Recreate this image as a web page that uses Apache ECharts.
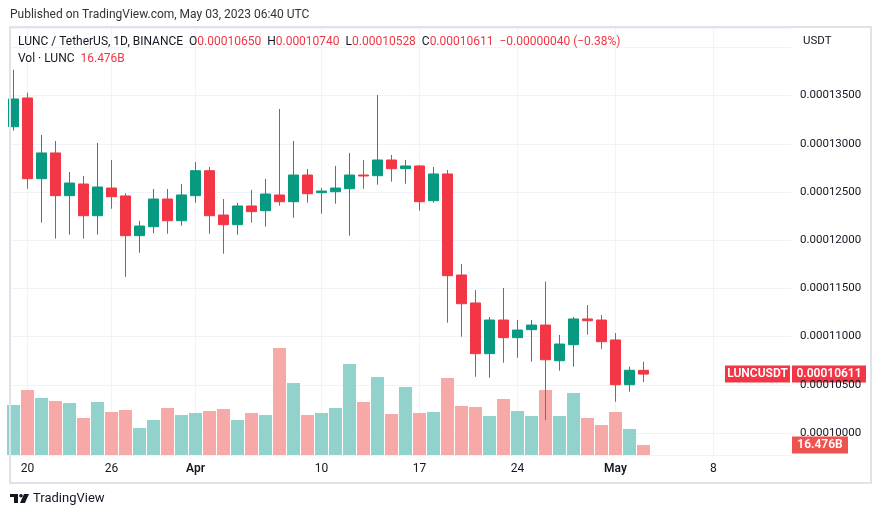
<!DOCTYPE html>
<html>
<head>
<meta charset="utf-8">
<script src="https://cdn.jsdelivr.net/npm/echarts@6/dist/echarts.min.js"></script>
<style>
  html, body { margin: 0; padding: 0; background: #fff; }
  #chart { width: 882px; height: 518px; }
</style>
</head>
<body>
<div id="chart"></div>
<script>
// daily LUNC/USDT candles, Mar 19 - May 3 2023
const dates = ['03-19','03-20','03-21','03-22','03-23','03-24','03-25','03-26','03-27','03-28',
  '03-29','03-30','03-31','04-01','04-02','04-03','04-04','04-05','04-06','04-07',
  '04-08','04-09','04-10','04-11','04-12','04-13','04-14','04-15','04-16','04-17',
  '04-18','04-19','04-20','04-21','04-22','04-23','04-24','04-25','04-26','04-27',
  '04-28','04-29','04-30','05-01','05-02','05-03'];
const open = [0.00013177,0.00013475,0.00012638,0.00012905,0.00012462,0.00012583,0.00012254,0.00012541,0.00012459,0.00012047,
  0.00012140,0.00012427,0.00012202,0.00012462,0.00012721,0.00012261,0.00012161,0.00012355,0.00012306,0.00012469,
  0.00012399,0.00012676,0.00012493,0.00012503,0.00012534,0.00012676,0.00012669,0.00012832,0.00012742,0.00012770,
  0.00012410,0.00012687,0.00011639,0.00011349,0.00010823,0.00011172,0.00010989,0.00011072,0.00011120,0.00010750,
  0.00010916,0.00011183,0.00011172,0.00010965,0.00010501,0.00010650];
const close = [0.00013465,0.00012638,0.00012905,0.00012462,0.00012593,0.00012254,0.00012552,0.00012451,0.00012047,0.00012147,
  0.00012427,0.00012202,0.00012469,0.00012721,0.00012254,0.00012161,0.00012355,0.00012296,0.00012479,0.00012399,
  0.00012676,0.00012482,0.00012510,0.00012541,0.00012676,0.00012666,0.00012832,0.00012742,0.00012770,0.00012399,
  0.00012687,0.00011632,0.00011341,0.00010823,0.00011172,0.00010989,0.00011068,0.00011120,0.00010760,0.00010923,
  0.00011183,0.00011165,0.00010947,0.00010501,0.00010651,0.00010611];
const low = [0.00013136,0.00012534,0.00012182,0.00012016,0.00012057,0.00012016,0.00012057,0.00012327,0.00011621,0.00011870,
  0.00012072,0.00012067,0.00012150,0.00012389,0.00012067,0.00011860,0.00012057,0.00012182,0.00012140,0.00012358,
  0.00012233,0.00012389,0.00012275,0.00012379,0.00012047,0.00012534,0.00012576,0.00012607,0.00012586,0.00012306,
  0.00012389,0.00011144,0.00010999,0.00010584,0.00010574,0.00010729,0.00010781,0.00010740,0.00010135,0.00010646,
  0.00010688,0.00011020,0.00010874,0.00010325,0.00010428,0.00010528];
const high = [0.00013766,0.00013530,0.00013091,0.00013029,0.00012707,0.00012666,0.00013008,0.00012832,0.00012487,0.00012202,
  0.00012531,0.00012531,0.00012583,0.00012811,0.00012759,0.00012427,0.00012386,0.00012521,0.00012635,0.00013361,
  0.00013029,0.00012739,0.00012541,0.00012770,0.00012905,0.00012832,0.00013506,0.00012884,0.00012832,0.00012780,
  0.00012759,0.00012728,0.00011753,0.00011483,0.00011203,0.00011504,0.00011172,0.00011172,0.00011570,0.00011017,
  0.00011203,0.00011328,0.00011224,0.00011037,0.00010688,0.00010740];
// volume in billions of LUNC
const volume = [82.4,107.1,93.9,89.0,85.7,61.0,87.3,70.8,74.1,44.5,
  57.7,77.4,65.9,69.2,72.5,75.8,57.7,69.2,65.9,176.3,
  118.6,65.9,69.2,77.4,149.9,87.3,128.5,67.6,112.0,69.2,
  70.8,126.9,80.7,79.1,64.3,92.3,72.5,64.3,107.1,64.3,
  102.2,61.0,49.4,70.8,42.8,16.476];

// x tick positions (day index from Mar 19) and their labels
const xTickIdx = [1, 7, 13, 22, 29, 36, 43, 50];
const xTickLabels = ['20', '26', 'Apr', '10', '17', '24', 'May', '8'];
// highest price label shown (the one above sits under the "USDT" caption)
const yLabelTop = 0.000135;

const UP = '#089981', DOWN = '#F23645';
const VOL_UP = '#92D2CC', VOL_DOWN = '#F7A9A7';
const FONT = 'Roboto, "Noto Sans", sans-serif';

const last = dates.length - 1;
const lastClose = close[last];
const chg = lastClose - close[last - 1];
const chgPct = chg / close[last - 1] * 100;
const fmt = v => v.toFixed(8);
const minus = s => s.replace('-', '\u2212');

const candleData = dates.map((d, i) => [i, open[i], close[i], low[i], high[i]]);
const volData = dates.map((d, i) => ({
  value: [i, volume[i]],
  itemStyle: { color: close[i] >= open[i] ? VOL_UP : VOL_DOWN }
}));

const chart = echarts.init(document.getElementById('chart'));

const option = {
  backgroundColor: '#fff',
  animation: false,
  textStyle: { fontFamily: FONT },
  grid: { left: 10, right: 91, top: 28, bottom: 63 },
  xAxis: {
    type: 'value',
    min: -0.25,
    max: 55.536,
    axisLine: { show: false },
    axisTick: { show: false, customValues: xTickIdx },
    splitLine: { show: true, lineStyle: { color: '#F0F3FA', width: 1 } },
    axisLabel: {
      customValues: xTickIdx,
      margin: 8,
      color: '#131722',
      fontSize: 12,
      fontFamily: FONT,
      formatter: function (val) {
        const k = xTickIdx.indexOf(Math.round(val));
        const s = k >= 0 ? xTickLabels[k] : '';
        return isNaN(Number(s)) ? '{m|' + s + '}' : s;
      },
      rich: { m: { fontWeight: 600, fontSize: 12, color: '#131722', fontFamily: FONT } }
    }
  },
  yAxis: [
    {
      type: 'value',
      position: 'right',
      min: 0.00009772,
      max: 0.00014201,
      splitNumber: 9,
      axisLine: { show: false },
      axisTick: { show: false },
      splitLine: { show: true, lineStyle: { color: '#F0F3FA', width: 1 } },
      axisLabel: {
        showMinLabel: false,
        showMaxLabel: false,
        margin: 9,
        color: '#131722',
        fontSize: 11.5,
        fontFamily: FONT,
        formatter: v => (v > yLabelTop + 1e-9 ? '' : v.toFixed(8))
      }
    },
    {
      type: 'value',
      min: 0,
      max: 703.5,
      show: false,
      splitLine: { show: false }
    }
  ],
  series: [
    {
      name: 'Vol',
      type: 'bar',
      yAxisIndex: 1,
      barWidth: 13,
      data: volData,
      z: 1
    },
    {
      name: 'LUNCUSDT',
      type: 'candlestick',
      barWidth: 10,
      encode: { x: 0, y: [1, 2, 3, 4] },
      data: candleData,
      itemStyle: {
        color: UP, color0: DOWN,
        borderColor: UP, borderColor0: DOWN,
        borderWidth: 1
      },
      z: 3,
      markLine: {
        silent: true,
        symbol: 'none',
        label: { show: false },
        lineStyle: { color: DOWN, type: [1, 2], width: 1 },
        data: [{ yAxis: lastClose }]
      }
    }
  ]
};
chart.setOption(option);

// label boxes on the right axis, placed through the axis scales
const yPrice = chart.convertToPixel({ yAxisIndex: 0 }, lastClose);
const yVol = chart.convertToPixel({ yAxisIndex: 1 }, volume[last]);

const boxText = (x, y, w, text, fill) => ({
  type: 'group',
  z: 20,
  children: [
    { type: 'rect', shape: { x: x, y: Math.round(y) - 8.5, width: w, height: 17 }, style: { fill: fill } },
    { type: 'text', x: x + w / 2, y: Math.round(y),
      style: { text: text, fill: '#fff', font: '600 12px ' + FONT, align: 'center', verticalAlign: 'middle' } }
  ]
});

chart.setOption({
  graphic: [
    // outer frame
    { type: 'rect', z: 30, shape: { x: 10, y: 27, width: 861, height: 456 },
      style: { fill: 'none', stroke: '#E0E3EB', lineWidth: 2 } },
    { type: 'text', x: 10, y: 15, z: 10,
      style: { text: 'Published on TradingView.com, May 03, 2023 06:40 UTC', fill: '#333',
        font: '12px ' + FONT, verticalAlign: 'middle' } },
    { type: 'text', x: 18, y: 42, z: 10,
      style: {
        text: 'LUNC / TetherUS, 1D, BINANCE  O{r|' + fmt(open[last]) + '}  H{r|' + fmt(high[last]) +
          '}  L{r|' + fmt(low[last]) + '}  C{r|' + fmt(close[last]) + '}  {r|' + minus(fmt(chg)) +
          ' (' + minus(chgPct.toFixed(2)) + '%)}',
        fill: '#131722', font: '12px ' + FONT, verticalAlign: 'middle',
        rich: { r: { fill: DOWN, font: '12px ' + FONT } }
      } },
    { type: 'text', x: 18, y: 59, z: 10,
      style: { text: 'Vol \u00b7 LUNC  {r|' + volume[last].toFixed(3) + 'B}', fill: '#131722',
        font: '12px ' + FONT, verticalAlign: 'middle',
        rich: { r: { fill: DOWN, font: '12px ' + FONT } } } },
    { type: 'text', x: 803, y: 41, z: 10,
      style: { text: 'USDT', fill: '#131722', font: '11.5px ' + FONT, verticalAlign: 'middle' } },
    boxText(725, yPrice, 65, 'LUNCUSDT', DOWN),
    boxText(792, yPrice, 74, fmt(lastClose), DOWN),
    boxText(792, yVol, 56, volume[last].toFixed(3) + 'B', '#EF5350'),
    // TradingView logo
    { type: 'group', x: 10, y: 494, z: 10, children: [
      { type: 'rect', shape: { x: 0, y: 0, width: 8, height: 3 }, style: { fill: '#131722' } },
      { type: 'rect', shape: { x: 4, y: 0, width: 4, height: 9 }, style: { fill: '#131722' } },
      { type: 'circle', shape: { cx: 11, cy: 1.8, r: 1.8 }, style: { fill: '#131722' } },
      { type: 'polygon', shape: { points: [[14, 0], [19, 0], [15, 9], [10, 9]] }, style: { fill: '#131722' } }
    ] },
    { type: 'text', x: 33, y: 499, z: 10,
      style: { text: 'TradingView', fill: '#131722', font: '13px ' + FONT, verticalAlign: 'middle' } }
  ]
});
</script>
</body>
</html>
